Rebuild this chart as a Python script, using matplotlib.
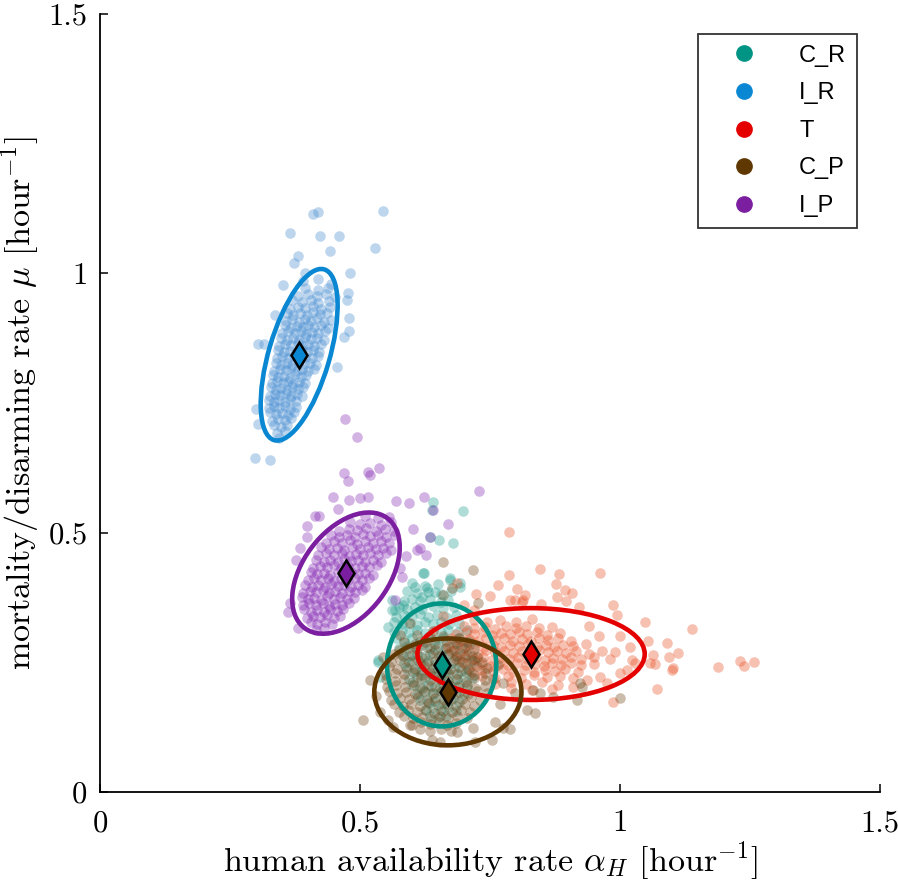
import matplotlib
matplotlib.use("Agg")
import matplotlib.pyplot as plt
from matplotlib.patches import Ellipse
from matplotlib.lines import Line2D

plt.rcParams['font.family'] = ['cmr10', 'DejaVu Serif']
plt.rcParams['mathtext.fontset'] = 'cm'
plt.rcParams['axes.formatter.use_mathtext'] = True

# ---------------- data ----------------
groups = ['C_R', 'I_R', 'T', 'C_P', 'I_P']
point_colors = ['#1a9a8a', '#3f88d0', '#e84a1f', '#6b3d0c', '#8020b0']
line_colors = ['#009485', '#0a87d2', '#e50000', '#5e3800', '#7b1fa0']

# posterior means (diamonds / ellipse centres)
mean_x = [0.657, 0.383, 0.829, 0.669, 0.473]
mean_y = [0.245, 0.843, 0.266, 0.193, 0.422]
# ellipse full axes (data units) and orientation (deg)
ell_w = [0.210, 0.343, 0.437, 0.283, 0.265]
ell_h = [0.237, 0.117, 0.177, 0.206, 0.165]
ell_ang = [0.0, 73.7, 0.0, 0.0, 53.0]

CR_pts = [
    (0.640, 0.559), (0.698, 0.542), (0.652, 0.486), (0.679, 0.480), (0.635, 0.492), (0.638, 0.544),
    (0.623, 0.422), (0.606, 0.395), (0.629, 0.393), (0.644, 0.386), (0.673, 0.409), (0.692, 0.395),
    (0.583, 0.360), (0.562, 0.351), (0.619, 0.376), (0.535, 0.251), (0.538, 0.222), (0.621, 0.422),
    (0.673, 0.413), (0.692, 0.403), (0.562, 0.370), (0.567, 0.351), (0.554, 0.318), (0.535, 0.254),
    (0.600, 0.402), (0.625, 0.398), (0.650, 0.401),
    (0.590, 0.387), (0.610, 0.383), (0.630, 0.386), (0.655, 0.382), (0.675, 0.388),
    (0.585, 0.368), (0.600, 0.372), (0.615, 0.369), (0.635, 0.373), (0.655, 0.367), (0.670, 0.371),
    (0.575, 0.357), (0.590, 0.353), (0.605, 0.356), (0.620, 0.352), (0.640, 0.358), (0.660, 0.354), (0.680, 0.357),
    (0.570, 0.338), (0.585, 0.342), (0.600, 0.339), (0.615, 0.343), (0.630, 0.337), (0.648, 0.341), (0.665, 0.338), (0.685, 0.342),
    (0.565, 0.327), (0.580, 0.323), (0.595, 0.326), (0.610, 0.322), (0.625, 0.328), (0.640, 0.324), (0.655, 0.327), (0.672, 0.323), (0.690, 0.326),
    (0.565, 0.308), (0.580, 0.312), (0.595, 0.309), (0.610, 0.313), (0.625, 0.307), (0.640, 0.311), (0.655, 0.308), (0.670, 0.312), (0.688, 0.309), (0.705, 0.313),
    (0.570, 0.297), (0.585, 0.293), (0.600, 0.296), (0.615, 0.292), (0.630, 0.298), (0.645, 0.294), (0.660, 0.297), (0.675, 0.293), (0.690, 0.296), (0.710, 0.292),
    (0.575, 0.278), (0.590, 0.282), (0.605, 0.279), (0.620, 0.283), (0.635, 0.277), (0.650, 0.281), (0.665, 0.278), (0.680, 0.282), (0.695, 0.279), (0.710, 0.283),
    (0.580, 0.267), (0.595, 0.263), (0.610, 0.266), (0.625, 0.262), (0.640, 0.268), (0.655, 0.264), (0.670, 0.267), (0.685, 0.263), (0.700, 0.266), (0.715, 0.262),
    (0.585, 0.248), (0.600, 0.252), (0.615, 0.249), (0.630, 0.253), (0.645, 0.247), (0.660, 0.251), (0.675, 0.248), (0.690, 0.252), (0.705, 0.249), (0.720, 0.253),
    (0.590, 0.237), (0.605, 0.233), (0.620, 0.236), (0.635, 0.232), (0.650, 0.238), (0.665, 0.234), (0.680, 0.237), (0.695, 0.233), (0.710, 0.236),
    (0.595, 0.218), (0.610, 0.222), (0.625, 0.219), (0.640, 0.223), (0.655, 0.217), (0.670, 0.221), (0.685, 0.218), (0.700, 0.222), (0.715, 0.219),
    (0.600, 0.207), (0.615, 0.203), (0.630, 0.206), (0.645, 0.202), (0.660, 0.208), (0.675, 0.204), (0.690, 0.207), (0.705, 0.203),
    (0.610, 0.188), (0.625, 0.192), (0.640, 0.189), (0.655, 0.193), (0.670, 0.187), (0.685, 0.191), (0.700, 0.188),
    (0.615, 0.177), (0.630, 0.173), (0.645, 0.176), (0.660, 0.172), (0.675, 0.178), (0.690, 0.174),
    (0.625, 0.158), (0.640, 0.162), (0.655, 0.159), (0.670, 0.163), (0.685, 0.157),
    (0.635, 0.147), (0.650, 0.143), (0.665, 0.146),
]

IR_pts = [
    (0.410, 1.115), (0.419, 1.118), (0.544, 1.120), (0.365, 1.078), (0.423, 1.072), (0.460, 1.072),
    (0.442, 1.043), (0.529, 1.049), (0.381, 1.033), (0.373, 1.020), (0.481, 1.000), (0.352, 0.977),
    (0.477, 0.962), (0.475, 0.948), (0.479, 0.914), (0.337, 0.920), (0.479, 0.889), (0.469, 0.877),
    (0.304, 0.864), (0.315, 0.864), (0.456, 0.819), (0.300, 0.738), (0.304, 0.709), (0.298, 0.644),
    (0.327, 0.640), (0.395, 1.000), (0.420, 0.990), (0.390, 0.985), (0.445, 0.980),
    (0.395, 0.972), (0.420, 0.968), (0.438, 0.971),
    (0.380, 0.956), (0.400, 0.961), (0.418, 0.957), (0.435, 0.960), (0.452, 0.955),
    (0.370, 0.948), (0.388, 0.944), (0.405, 0.949), (0.420, 0.943), (0.440, 0.947),
    (0.365, 0.931), (0.380, 0.936), (0.395, 0.933), (0.410, 0.937), (0.425, 0.932), (0.442, 0.935),
    (0.360, 0.924), (0.372, 0.919), (0.385, 0.923), (0.398, 0.920), (0.410, 0.925), (0.423, 0.921), (0.437, 0.924),
    (0.358, 0.908), (0.370, 0.912), (0.382, 0.907), (0.395, 0.911), (0.405, 0.909), (0.418, 0.913), (0.430, 0.906), (0.445, 0.910),
    (0.355, 0.900), (0.367, 0.895), (0.378, 0.899), (0.390, 0.896), (0.400, 0.901), (0.412, 0.897), (0.425, 0.900), (0.438, 0.895),
    (0.350, 0.884), (0.362, 0.888), (0.375, 0.885), (0.386, 0.889), (0.397, 0.883), (0.408, 0.887), (0.420, 0.884), (0.433, 0.888),
    (0.348, 0.876), (0.360, 0.872), (0.372, 0.875), (0.383, 0.871), (0.394, 0.877), (0.405, 0.873), (0.417, 0.876), (0.430, 0.872),
    (0.345, 0.860), (0.356, 0.864), (0.368, 0.861), (0.380, 0.865), (0.390, 0.859), (0.400, 0.863), (0.412, 0.860), (0.425, 0.864),
    (0.342, 0.852), (0.353, 0.848), (0.365, 0.851), (0.377, 0.847), (0.388, 0.853), (0.398, 0.849), (0.410, 0.852), (0.422, 0.848),
    (0.340, 0.836), (0.350, 0.840), (0.362, 0.837), (0.374, 0.841), (0.385, 0.835), (0.395, 0.839), (0.407, 0.836), (0.420, 0.840),
    (0.338, 0.828), (0.348, 0.824), (0.360, 0.827), (0.370, 0.823), (0.380, 0.829), (0.392, 0.825), (0.403, 0.828), (0.415, 0.824),
    (0.335, 0.812), (0.346, 0.816), (0.357, 0.813), (0.368, 0.817), (0.378, 0.811), (0.389, 0.815), (0.400, 0.812), (0.412, 0.816),
    (0.332, 0.804), (0.343, 0.800), (0.354, 0.803), (0.365, 0.799), (0.375, 0.805), (0.386, 0.801), (0.397, 0.804),
    (0.330, 0.788), (0.340, 0.792), (0.351, 0.789), (0.362, 0.793), (0.372, 0.787), (0.383, 0.791), (0.395, 0.788),
    (0.328, 0.780), (0.338, 0.776), (0.349, 0.779), (0.360, 0.775), (0.370, 0.781), (0.380, 0.777), (0.390, 0.780),
    (0.326, 0.764), (0.336, 0.768), (0.347, 0.765), (0.357, 0.769), (0.367, 0.763), (0.378, 0.767), (0.388, 0.764),
    (0.325, 0.756), (0.335, 0.752), (0.345, 0.755), (0.355, 0.751), (0.365, 0.757), (0.376, 0.753),
    (0.325, 0.740), (0.335, 0.744), (0.345, 0.741), (0.355, 0.745), (0.366, 0.739), (0.377, 0.743),
    (0.327, 0.732), (0.338, 0.728), (0.350, 0.731), (0.362, 0.727), (0.373, 0.733),
    (0.330, 0.716), (0.342, 0.720), (0.355, 0.717), (0.367, 0.721),
    (0.335, 0.708), (0.348, 0.704), (0.360, 0.707),
    (0.340, 0.692), (0.355, 0.696), (0.345, 0.683),
]

T_pts = [
    (0.846, 0.430), (0.883, 0.420), (0.962, 0.422), (0.877, 0.401), (0.894, 0.389), (0.908, 0.384),
    (0.879, 0.376), (0.896, 0.368), (0.848, 0.362), (0.817, 0.380), (0.812, 0.366), (0.921, 0.357),
    (0.987, 0.361), (0.994, 0.341), (1.048, 0.328), (1.138, 0.314), (1.054, 0.291), (1.090, 0.287),
    (1.112, 0.268), (1.094, 0.260), (1.063, 0.264), (1.058, 0.249), (1.067, 0.247), (1.102, 0.239),
    (1.100, 0.235), (1.188, 0.241), (1.231, 0.253), (1.238, 0.243), (1.258, 0.251), (1.071, 0.199),
    (0.987, 0.174), (1.023, 0.254), (1.029, 0.249), (1.000, 0.229), (1.013, 0.235), (0.962, 0.222),
    (0.975, 0.210), (0.937, 0.216), (0.910, 0.202), (0.787, 0.501), (0.787, 0.418), (0.765, 0.399),
    (0.802, 0.391), (0.723, 0.382), (0.750, 0.378), (0.788, 0.370), (0.798, 0.370), (0.813, 0.370),
    (0.687, 0.403), (0.700, 0.360), (0.720, 0.350), (0.660, 0.340), (0.640, 0.310), (1.000, 0.300),
    (1.020, 0.280), (0.960, 0.300), (0.990, 0.270), (0.940, 0.320),
    (0.720, 0.332), (0.745, 0.328), (0.770, 0.331), (0.800, 0.327), (0.830, 0.333),
    (0.700, 0.320), (0.720, 0.316), (0.740, 0.319), (0.760, 0.315), (0.780, 0.321), (0.800, 0.317), (0.820, 0.320), (0.845, 0.316), (0.870, 0.319),
    (0.685, 0.304), (0.703, 0.308), (0.720, 0.305), (0.737, 0.309), (0.754, 0.303), (0.771, 0.307), (0.788, 0.304), (0.805, 0.308), (0.822, 0.305), (0.840, 0.309), (0.860, 0.303), (0.885, 0.307),
    (0.675, 0.296), (0.692, 0.292), (0.709, 0.295), (0.726, 0.291), (0.743, 0.297), (0.760, 0.293), (0.777, 0.296), (0.794, 0.292), (0.811, 0.295), (0.828, 0.291), (0.845, 0.297), (0.862, 0.293), (0.880, 0.296), (0.905, 0.292),
    (0.670, 0.280), (0.687, 0.284), (0.704, 0.281), (0.721, 0.285), (0.738, 0.279), (0.755, 0.283), (0.772, 0.280), (0.789, 0.284), (0.806, 0.281), (0.823, 0.285), (0.840, 0.279), (0.857, 0.283), (0.874, 0.280), (0.891, 0.284), (0.910, 0.281), (0.935, 0.285),
    (0.675, 0.272), (0.692, 0.268), (0.709, 0.271), (0.726, 0.267), (0.743, 0.273), (0.760, 0.269), (0.777, 0.272), (0.794, 0.268), (0.811, 0.271), (0.828, 0.267), (0.845, 0.273), (0.862, 0.269), (0.879, 0.272), (0.896, 0.268), (0.915, 0.271), (0.940, 0.267), (0.965, 0.272),
    (0.685, 0.256), (0.702, 0.260), (0.719, 0.257), (0.736, 0.261), (0.753, 0.255), (0.770, 0.259), (0.787, 0.256), (0.804, 0.260), (0.821, 0.257), (0.838, 0.261), (0.855, 0.255), (0.872, 0.259), (0.889, 0.256), (0.906, 0.260), (0.925, 0.257), (0.950, 0.261), (0.980, 0.256),
    (0.700, 0.248), (0.717, 0.244), (0.734, 0.247), (0.751, 0.243), (0.768, 0.249), (0.785, 0.245), (0.802, 0.248), (0.819, 0.244), (0.836, 0.247), (0.853, 0.243), (0.870, 0.249), (0.887, 0.245), (0.905, 0.248), (0.925, 0.244), (0.950, 0.247),
    (0.715, 0.232), (0.735, 0.236), (0.755, 0.233), (0.775, 0.237), (0.795, 0.231), (0.815, 0.235), (0.835, 0.232), (0.855, 0.236), (0.875, 0.233), (0.895, 0.237), (0.920, 0.232),
    (0.735, 0.224), (0.760, 0.220), (0.785, 0.223), (0.810, 0.219), (0.835, 0.225), (0.860, 0.221), (0.885, 0.224), (0.910, 0.220),
    (0.760, 0.208), (0.790, 0.212), (0.820, 0.209), (0.850, 0.213), (0.880, 0.207),
    (0.790, 0.200), (0.830, 0.196), (0.870, 0.199),
]

CP_pts = [
    (0.660, 0.443), (0.717, 0.428), (0.727, 0.364), (0.677, 0.393), (0.519, 0.216), (0.506, 0.139),
    (0.554, 0.139), (0.563, 0.125), (0.538, 0.154), (0.596, 0.129), (0.638, 0.100), (0.654, 0.096),
    (0.687, 0.116), (0.717, 0.123), (0.721, 0.096), (0.754, 0.100), (0.760, 0.135), (0.775, 0.123),
    (0.788, 0.121), (0.821, 0.158), (0.837, 0.152), (0.798, 0.191), (0.923, 0.210), (0.927, 0.202),
    (0.833, 0.197), (0.846, 0.191), (0.871, 0.183), (1.000, 0.181), (0.917, 0.177), (0.770, 0.170),
    (0.775, 0.210), (0.765, 0.245), (0.530, 0.185), (0.545, 0.260), (0.660, 0.380), (0.596, 0.326),
    (0.577, 0.303),
    (0.610, 0.302), (0.635, 0.298), (0.660, 0.301), (0.690, 0.297),
    (0.585, 0.290), (0.605, 0.286), (0.625, 0.289), (0.645, 0.285), (0.665, 0.291), (0.685, 0.287), (0.705, 0.290),
    (0.575, 0.274), (0.593, 0.278), (0.610, 0.275), (0.628, 0.279), (0.645, 0.273), (0.663, 0.277), (0.680, 0.274), (0.700, 0.278), (0.720, 0.275),
    (0.565, 0.266), (0.582, 0.262), (0.600, 0.265), (0.617, 0.261), (0.635, 0.267), (0.652, 0.263), (0.670, 0.266), (0.687, 0.262), (0.705, 0.265), (0.725, 0.261),
    (0.560, 0.250), (0.577, 0.254), (0.594, 0.251), (0.611, 0.255), (0.628, 0.249), (0.645, 0.253), (0.662, 0.250), (0.680, 0.254), (0.697, 0.251), (0.715, 0.255), (0.735, 0.250),
    (0.555, 0.242), (0.572, 0.238), (0.589, 0.241), (0.606, 0.237), (0.623, 0.243), (0.640, 0.239), (0.657, 0.242), (0.674, 0.238), (0.691, 0.241), (0.708, 0.237), (0.725, 0.243), (0.745, 0.239),
    (0.550, 0.226), (0.567, 0.230), (0.584, 0.227), (0.601, 0.231), (0.618, 0.225), (0.635, 0.229), (0.652, 0.226), (0.669, 0.230), (0.686, 0.227), (0.703, 0.231), (0.720, 0.225), (0.740, 0.229),
    (0.550, 0.218), (0.567, 0.214), (0.584, 0.217), (0.601, 0.213), (0.618, 0.219), (0.635, 0.215), (0.652, 0.218), (0.669, 0.214), (0.686, 0.217), (0.703, 0.213), (0.720, 0.219), (0.740, 0.215), (0.755, 0.218),
    (0.552, 0.202), (0.569, 0.206), (0.586, 0.203), (0.603, 0.207), (0.620, 0.201), (0.637, 0.205), (0.654, 0.202), (0.671, 0.206), (0.688, 0.203), (0.705, 0.207), (0.722, 0.201), (0.740, 0.205),
    (0.555, 0.194), (0.572, 0.190), (0.589, 0.193), (0.606, 0.189), (0.623, 0.195), (0.640, 0.191), (0.657, 0.194), (0.674, 0.190), (0.691, 0.193), (0.708, 0.189), (0.725, 0.195), (0.745, 0.191),
    (0.560, 0.178), (0.577, 0.182), (0.594, 0.179), (0.611, 0.183), (0.628, 0.177), (0.645, 0.181), (0.662, 0.178), (0.679, 0.182), (0.696, 0.179), (0.713, 0.183), (0.730, 0.177),
    (0.565, 0.170), (0.582, 0.166), (0.599, 0.169), (0.616, 0.165), (0.633, 0.171), (0.650, 0.167), (0.667, 0.170), (0.684, 0.166), (0.701, 0.169), (0.720, 0.165),
    (0.575, 0.154), (0.592, 0.158), (0.609, 0.155), (0.626, 0.159), (0.643, 0.153), (0.660, 0.157), (0.677, 0.154), (0.694, 0.158), (0.712, 0.155),
    (0.585, 0.146), (0.602, 0.142), (0.619, 0.145), (0.636, 0.141), (0.653, 0.147), (0.670, 0.143), (0.687, 0.146), (0.705, 0.142),
    (0.600, 0.130), (0.617, 0.134), (0.634, 0.131), (0.651, 0.135), (0.668, 0.129), (0.685, 0.133),
    (0.615, 0.122), (0.635, 0.118), (0.655, 0.121), (0.675, 0.117),
]

IP_pts = [
    (0.471, 0.719), (0.494, 0.684), (0.469, 0.615), (0.477, 0.600), (0.515, 0.617), (0.519, 0.611),
    (0.537, 0.625), (0.448, 0.569), (0.479, 0.563), (0.500, 0.567), (0.515, 0.569), (0.569, 0.561),
    (0.594, 0.557), (0.623, 0.569), (0.729, 0.580), (0.640, 0.544), (0.602, 0.507), (0.635, 0.492),
    (0.669, 0.517), (0.610, 0.467), (0.615, 0.470), (0.627, 0.457), (0.413, 0.532), (0.421, 0.532),
    (0.398, 0.513), (0.398, 0.492), (0.458, 0.546), (0.377, 0.447), (0.365, 0.364), (0.362, 0.347),
    (0.381, 0.316), (0.581, 0.415), (0.567, 0.370), (0.577, 0.432), (0.588, 0.455), (0.385, 0.470),
    (0.510, 0.532), (0.535, 0.528), (0.555, 0.531),
    (0.480, 0.520), (0.500, 0.516), (0.520, 0.519), (0.540, 0.515), (0.560, 0.521),
    (0.460, 0.504), (0.478, 0.508), (0.495, 0.505), (0.512, 0.509), (0.530, 0.503), (0.548, 0.507), (0.565, 0.504),
    (0.445, 0.496), (0.460, 0.492), (0.475, 0.495), (0.490, 0.491), (0.505, 0.497), (0.520, 0.493), (0.535, 0.496), (0.550, 0.492), (0.568, 0.495),
    (0.435, 0.480), (0.450, 0.484), (0.465, 0.481), (0.480, 0.485), (0.495, 0.479), (0.510, 0.483), (0.525, 0.480), (0.540, 0.484), (0.555, 0.481),
    (0.425, 0.472), (0.440, 0.468), (0.455, 0.471), (0.470, 0.467), (0.485, 0.473), (0.500, 0.469), (0.515, 0.472), (0.530, 0.468), (0.545, 0.471), (0.560, 0.467),
    (0.420, 0.456), (0.435, 0.460), (0.450, 0.457), (0.465, 0.461), (0.478, 0.455), (0.492, 0.459), (0.506, 0.456), (0.520, 0.460), (0.535, 0.457), (0.550, 0.461),
    (0.415, 0.448), (0.430, 0.444), (0.443, 0.447), (0.457, 0.443), (0.470, 0.449), (0.483, 0.445), (0.497, 0.448), (0.510, 0.444), (0.525, 0.447), (0.540, 0.443),
    (0.410, 0.432), (0.423, 0.436), (0.437, 0.433), (0.450, 0.437), (0.463, 0.431), (0.477, 0.435), (0.490, 0.432), (0.503, 0.436), (0.517, 0.433), (0.532, 0.437),
    (0.405, 0.424), (0.418, 0.420), (0.430, 0.423), (0.443, 0.419), (0.457, 0.425), (0.470, 0.421), (0.483, 0.424), (0.497, 0.420), (0.510, 0.423), (0.525, 0.419),
    (0.400, 0.408), (0.412, 0.412), (0.425, 0.409), (0.438, 0.413), (0.450, 0.407), (0.463, 0.411), (0.476, 0.408), (0.490, 0.412), (0.503, 0.409), (0.518, 0.413),
    (0.395, 0.400), (0.408, 0.396), (0.420, 0.399), (0.433, 0.395), (0.445, 0.401), (0.458, 0.397), (0.470, 0.400), (0.483, 0.396), (0.497, 0.399), (0.510, 0.395),
    (0.390, 0.384), (0.403, 0.388), (0.415, 0.385), (0.428, 0.389), (0.440, 0.383), (0.452, 0.387), (0.465, 0.384), (0.478, 0.388), (0.490, 0.385), (0.503, 0.389),
    (0.388, 0.376), (0.400, 0.372), (0.412, 0.375), (0.425, 0.371), (0.437, 0.377), (0.450, 0.373), (0.462, 0.376), (0.475, 0.372), (0.488, 0.375),
    (0.390, 0.360), (0.402, 0.364), (0.415, 0.361), (0.428, 0.365), (0.440, 0.359), (0.452, 0.363), (0.465, 0.360), (0.478, 0.364),
    (0.393, 0.352), (0.405, 0.348), (0.418, 0.351), (0.430, 0.347), (0.443, 0.353), (0.455, 0.349), (0.468, 0.352),
    (0.398, 0.336), (0.410, 0.340), (0.423, 0.337), (0.436, 0.341), (0.450, 0.335), (0.462, 0.339),
    (0.405, 0.328), (0.418, 0.324), (0.432, 0.327), (0.446, 0.323),
    (0.415, 0.312), (0.430, 0.316),
]

all_pts = [CR_pts, IR_pts, T_pts, CP_pts, IP_pts]

x_ticks = [0, 0.5, 1, 1.5]
x_ticklabels = ['0', '0.5', '1', '1.5']
y_ticks = [0, 0.5, 1, 1.5]
y_ticklabels = ['0', '0.5', '1', '1.5']

# ---------------- figure ----------------
fig = plt.figure(figsize=(8.98, 8.82), dpi=100)
ax = fig.add_axes([100 / 898, 90 / 882, 780 / 898, 778 / 882])

for pts, pc in zip(all_pts, point_colors):
    xs = [p[0] for p in pts]
    ys = [p[1] for p in pts]
    ax.scatter(xs, ys, s=58, color=pc, alpha=0.34, linewidths=0, zorder=2)

for i in range(len(groups)):
    e = Ellipse((mean_x[i], mean_y[i]), ell_w[i], ell_h[i], angle=ell_ang[i],
                fill=False, edgecolor=line_colors[i], linewidth=3.3, zorder=3)
    ax.add_patch(e)

for i in range(len(groups)):
    ax.plot(mean_x[i], mean_y[i], marker='d', markersize=13, markerfacecolor=line_colors[i],
            markeredgecolor='black', markeredgewidth=1.8, linestyle='none', zorder=4)

ax.set_xlim(0, 1.5)
ax.set_ylim(0, 1.5)
ax.set_xticks(x_ticks, labels=x_ticklabels)
ax.set_yticks(y_ticks, labels=y_ticklabels)
for s in ['top', 'right']:
    ax.spines[s].set_visible(False)
for s in ['left', 'bottom']:
    ax.spines[s].set_linewidth(1.3)
ax.tick_params(direction='in', length=6, width=1.1, labelsize=22)
ax.tick_params(axis='x', pad=13)
ax.tick_params(axis='y', pad=9)

ax.set_xlabel(r'human availability rate $\alpha_H$ [hour$^{-1}$]', fontsize=24.5, labelpad=1)
ax.set_ylabel(r'mortality/disarming rate $\mu$ [hour$^{-1}$]', fontsize=24.5, labelpad=5)

handles = [Line2D([], [], marker='o', linestyle='none', markersize=11, color=c) for c in line_colors]
leg = ax.legend(handles, groups, loc='upper right', bbox_to_anchor=(0.9705, 0.9743),
                borderaxespad=0, frameon=True, fancybox=False, edgecolor='black',
                prop={'family': 'Liberation Sans', 'size': 17}, handlelength=3.0,
                handletextpad=0.85, labelspacing=0.66, borderpad=0.45)
leg.get_frame().set_linewidth(1.3)

fig.savefig('out.png', dpi=100)
